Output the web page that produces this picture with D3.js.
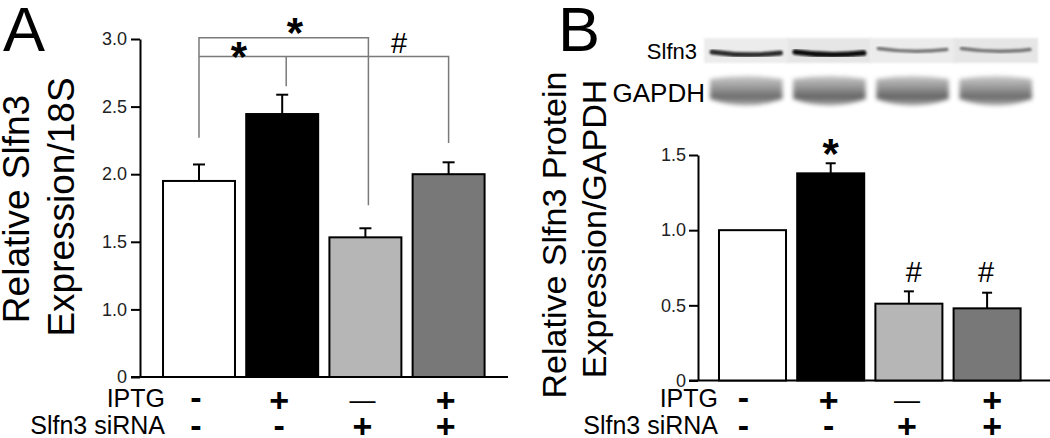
<!DOCTYPE html>
<html>
<head>
<meta charset="utf-8">
<script src="https://cdn.jsdelivr.net/npm/d3@7"></script>
<style>
  html, body { margin: 0; padding: 0; background: #fff; }
  svg { display: block; font-family: "Liberation Sans", Arial, sans-serif; }
</style>
</head>
<body>
<svg id="chart" width="1050" height="438"></svg>
<script>
// ---------- data ----------
const groups = ["ctrl", "iptg", "sirna", "iptg_sirna"];
const iptgSigns = ["-", "+", "\u2014", "+"];
const sirnaSigns = ["-", "-", "+", "+"];
const barColors = ["#ffffff", "#000000", "#b6b6b6", "#787878"];

// Panel A: relative Slfn3 mRNA expression / 18S
const meansA = [1.95, 2.445, 1.533, 2.0];
const errA = [0.122, 0.143, 0.067, 0.088];
const ticksA = [0, 1.0, 1.5, 2.0, 2.5, 3.0];

// Panel B: relative Slfn3 protein expression / GAPDH
const meansB = [1.0, 1.378, 0.511, 0.48];
const errB = [0, 0.067, 0.082, 0.104];
const ticksB = [0, 0.5, 1.0, 1.5];
const markB = ["", "*", "#", "#"];

// Western blot lane intensities (relative)
const slfn3Blot = [0.85, 1.0, 0.5, 0.5];
const gapdhBlot = [0.8, 0.85, 0.85, 0.8];

// Panel A significance brackets (value levels)
const bracketTop = {from: "ctrl", to: "sirna", level: 3.01, legFrom: 2.27, legTo: 1.77};
const bracketLow = {from: "ctrl", mid: "iptg", to: "iptg_sirna", level: 2.87, legMid: 2.65, legTo: 2.23};

// ---------- setup ----------
const svg = d3.select("#chart");
const font = '"Liberation Sans", Arial, sans-serif';

// ---------- Panel A ----------
const xA = d3.scaleBand().domain(groups).range([157.4, 490.2]).paddingInner(0.135).paddingOuter(0.0675);
const yA = d3.scaleLinear().domain([0, 1, 3]).range([377, 309.4, 39]);
const axisXA = 140;

const gA = svg.append("g");

gA.append("g")
  .attr("transform", `translate(${axisXA},0)`)
  .call(d3.axisLeft(yA).tickValues(ticksA).tickSize(9).tickSizeOuter(0).tickPadding(4)
    .tickFormat(d => d === 0 ? "0" : d3.format(".1f")(d)))
  .call(g => g.select(".domain").attr("stroke", "#000").attr("stroke-width", 2))
  .call(g => g.selectAll(".tick line").attr("stroke", "#000").attr("stroke-width", 2))
  .call(g => g.selectAll(".tick text").attr("font-size", 18).attr("font-family", font).attr("fill", "#222"));

// x axis line
gA.append("line").attr("x1", axisXA - 9).attr("x2", 508).attr("y1", yA(0)).attr("y2", yA(0))
  .attr("stroke", "#000").attr("stroke-width", 2);

// bars
gA.selectAll("rect.bar").data(groups).join("rect")
  .attr("x", d => xA(d)).attr("width", xA.bandwidth())
  .attr("y", (d, i) => yA(meansA[i])).attr("height", (d, i) => yA(0) - yA(meansA[i]))
  .attr("fill", (d, i) => barColors[i]).attr("stroke", "#000").attr("stroke-width", 2);

// error bars
groups.forEach((g, i) => {
  if (!errA[i]) return;
  const cx = xA(g) + xA.bandwidth() / 2;
  gA.append("line").attr("x1", cx).attr("x2", cx).attr("y1", yA(meansA[i])).attr("y2", yA(meansA[i] + errA[i]))
    .attr("stroke", "#000").attr("stroke-width", 2);
  gA.append("line").attr("x1", cx - 6).attr("x2", cx + 6).attr("y1", yA(meansA[i] + errA[i])).attr("y2", yA(meansA[i] + errA[i]))
    .attr("stroke", "#000").attr("stroke-width", 2);
});

// brackets
const cA = g => xA(g) + xA.bandwidth() / 2;
const brk = gA.append("g").attr("stroke", "#7a7a7a").attr("stroke-width", 1.5).attr("fill", "none");
brk.append("path").attr("d",
  `M${cA(bracketTop.from)},${yA(bracketTop.legFrom)} V${yA(bracketTop.level)} H${cA(bracketTop.to) + 3} V${yA(bracketTop.legTo)}`);
brk.append("path").attr("d",
  `M${cA(bracketLow.from)},${yA(bracketLow.level)} H${cA(bracketLow.to)} V${yA(bracketLow.legTo)}`);
brk.append("path").attr("d",
  `M${cA(bracketLow.mid) + 4},${yA(bracketLow.level)} V${yA(bracketLow.legMid)}`);

gA.append("text").attr("x", 295).attr("y", 47).attr("text-anchor", "middle")
  .attr("font-size", 42).attr("font-weight", "bold").attr("font-family", font).text("*");
gA.append("text").attr("x", 239).attr("y", 71).attr("text-anchor", "middle")
  .attr("font-size", 42).attr("font-weight", "bold").attr("font-family", font).text("*");
gA.append("text").attr("x", 399).attr("y", 53).attr("text-anchor", "middle")
  .attr("font-size", 29).attr("font-family", font).text("#");

// panel letter and y label
gA.append("text").attr("x", 3).attr("y", 51).attr("font-size", 63).attr("font-family", font).text("A");
gA.append("text").attr("transform", "translate(29,209) rotate(-90)").attr("text-anchor", "middle")
  .attr("font-size", 37).attr("font-family", font).text("Relative Slfn3");
gA.append("text").attr("transform", "translate(74,207) rotate(-90)").attr("text-anchor", "middle")
  .attr("font-size", 37).attr("font-family", font).text("Expression/18S");

// condition rows
function conditionRows(g, xs, labelX) {
  g.append("text").attr("x", labelX).attr("y", 407).attr("text-anchor", "end")
    .attr("font-size", 25).attr("font-family", font).text("IPTG");
  g.append("text").attr("x", labelX).attr("y", 434).attr("text-anchor", "end")
    .attr("font-size", 25).attr("font-family", font).text("Slfn3 siRNA");
  groups.forEach((grp, i) => {
    const s1 = iptgSigns[i], s2 = sirnaSigns[i];
    g.append("text").attr("x", xs(grp)).attr("y", s1 === "+" ? 412 : 409).attr("text-anchor", "middle")
      .attr("font-size", s1 === "\u2014" ? 26 : 34).attr("font-weight", s1 === "\u2014" ? "normal" : "bold")
      .attr("font-family", font).text(s1);
    g.append("text").attr("x", xs(grp)).attr("y", s2 === "+" ? 438 : 437).attr("text-anchor", "middle")
      .attr("font-size", 34).attr("font-weight", "bold").attr("font-family", font).text(s2);
  });
}
conditionRows(gA, g => cA(g) - 3, 165);

// ---------- Panel B ----------
const xB = d3.scaleBand().domain(groups).range([713.4, 1026.2]).paddingInner(0.143).paddingOuter(0.0715);
const yB = d3.scaleLinear().domain([0, 1.5]).range([380.5, 155]);
const axisXB = 698;
const gB = svg.append("g");

gB.append("g")
  .attr("transform", `translate(${axisXB},0)`)
  .call(d3.axisLeft(yB).tickValues(ticksB).tickSize(9).tickSizeOuter(0).tickPadding(3)
    .tickFormat(d => d === 0 ? "0" : d3.format(".1f")(d)))
  .call(g => g.select(".domain").attr("stroke", "#000").attr("stroke-width", 2))
  .call(g => g.selectAll(".tick line").attr("stroke", "#000").attr("stroke-width", 2))
  .call(g => g.selectAll(".tick text").attr("font-size", 18).attr("font-family", font).attr("fill", "#222"));

gB.append("line").attr("x1", axisXB - 9).attr("x2", 1050).attr("y1", yB(0)).attr("y2", yB(0))
  .attr("stroke", "#000").attr("stroke-width", 2);

gB.selectAll("rect.bar").data(groups).join("rect")
  .attr("x", d => xB(d)).attr("width", xB.bandwidth())
  .attr("y", (d, i) => yB(meansB[i])).attr("height", (d, i) => yB(0) - yB(meansB[i]))
  .attr("fill", (d, i) => barColors[i]).attr("stroke", "#000").attr("stroke-width", 2);

const cB = g => xB(g) + xB.bandwidth() / 2;
groups.forEach((g, i) => {
  if (errB[i]) {
    const cx = cB(g);
    gB.append("line").attr("x1", cx).attr("x2", cx).attr("y1", yB(meansB[i])).attr("y2", yB(meansB[i] + errB[i]))
      .attr("stroke", "#000").attr("stroke-width", 2);
    gB.append("line").attr("x1", cx - 5).attr("x2", cx + 5).attr("y1", yB(meansB[i] + errB[i])).attr("y2", yB(meansB[i] + errB[i]))
      .attr("stroke", "#000").attr("stroke-width", 2);
  }
  if (markB[i] === "*") {
    gB.append("text").attr("x", cB(g)).attr("y", 168).attr("text-anchor", "middle")
      .attr("font-size", 42).attr("font-weight", "bold").attr("font-family", font).text("*");
  } else if (markB[i] === "#") {
    gB.append("text").attr("x", cB(g) + (i === 2 ? 5 : -1)).attr("y", 282).attr("text-anchor", "middle")
      .attr("font-size", 29).attr("font-family", font).text("#");
  }
});

gB.append("text").attr("x", 558).attr("y", 51).attr("font-size", 63).attr("font-family", font).text("B");
gB.append("text").attr("transform", "translate(566,235) rotate(-90)").attr("text-anchor", "middle")
  .attr("font-size", 34).attr("font-family", font).text("Relative Slfn3 Protein");
gB.append("text").attr("transform", "translate(606,229) rotate(-90)").attr("text-anchor", "middle")
  .attr("font-size", 34).attr("font-family", font).text("Expression/GAPDH");

conditionRows(gB, g => cB(g) - (g === "ctrl" ? 9 : (g === "iptg_sirna" ? -5 : 2)), 718);

// ---------- Western blot ----------
const defs = svg.append("defs");
defs.append("filter").attr("id", "blur1").attr("x", "-20%").attr("y", "-80%").attr("width", "140%").attr("height", "260%")
  .append("feGaussianBlur").attr("stdDeviation", 1.1);
defs.append("filter").attr("id", "blur2").attr("x", "-20%").attr("y", "-50%").attr("width", "140%").attr("height", "200%")
  .append("feGaussianBlur").attr("stdDeviation", 2.2);
const grad = defs.append("linearGradient").attr("id", "gapdhGrad").attr("x1", 0).attr("x2", 0).attr("y1", 0).attr("y2", 1);
grad.append("stop").attr("offset", "0%").attr("stop-color", "#c4c4c4");
grad.append("stop").attr("offset", "40%").attr("stop-color", "#8e8e8e");
grad.append("stop").attr("offset", "72%").attr("stop-color", "#5c5c5c");
grad.append("stop").attr("offset", "100%").attr("stop-color", "#a8a8a8");

const blotX = d3.scaleBand().domain(groups).range([708, 1034]).paddingInner(0.08).paddingOuter(0);
const gW = svg.append("g");
const shadeOf = d3.interpolateRgb("#e0e0e0", "#0a0a0a");

// Slfn3 strip background
groups.forEach((g, i) => {
  gW.append("rect").attr("x", blotX(g) - 4).attr("y", 38).attr("width", blotX.bandwidth() + 8).attr("height", 25)
    .attr("fill", i % 2 ? "#e6e6e6" : "#ececec").attr("filter", "url(#blur1)");
});
groups.forEach((g, i) => {
  const x0 = blotX(g) + 4, x1 = blotX(g) + blotX.bandwidth() - 4, xm = (x0 + x1) / 2;
  const k = slfn3Blot[i];
  const yb = k > 0.7 ? 54 : 50.5;
  gW.append("path")
    .attr("d", `M${x0},${yb - 2} Q${xm},${yb + 3} ${x1},${yb - 1}`)
    .attr("fill", "none").attr("stroke", shadeOf(k)).attr("stroke-width", 1.5 + 4 * k)
    .attr("stroke-linecap", "round").attr("filter", "url(#blur1)");
});

// GAPDH bands
groups.forEach((g, i) => {
  const x0 = blotX(g) + 2, x1 = blotX(g) + blotX.bandwidth() - 2, xm = (x0 + x1) / 2;
  gW.append("path")
    .attr("d", `M${x0},79 Q${xm},73 ${x1},79 L${x1},99 Q${xm},112 ${x0},99 Z`)
    .attr("fill", "url(#gapdhGrad)").attr("opacity", gapdhBlot[i] + 0.1).attr("filter", "url(#blur2)");
});

gW.append("text").attr("x", 697).attr("y", 59).attr("text-anchor", "end")
  .attr("font-size", 22).attr("font-family", font).text("Slfn3");
gW.append("text").attr("x", 705).attr("y", 102).attr("text-anchor", "end")
  .attr("font-size", 26).attr("font-family", font).text("GAPDH");
</script>
</body>
</html>
